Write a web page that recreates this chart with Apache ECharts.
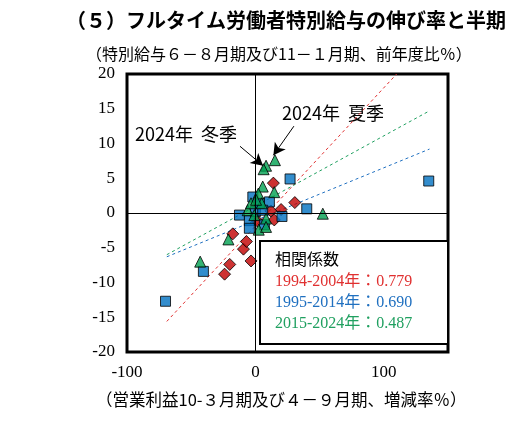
<!DOCTYPE html>
<html><head><meta charset="utf-8">
<script src="https://cdn.jsdelivr.net/npm/echarts@6/dist/echarts.min.js"></script>
<style>body{margin:0;background:#fff}#c{width:529px;height:444px}</style></head>
<body><div id="c"></div>
<script>
const red9404 = [[-24,-8.8],[-20,-7.4],[-9.3,-5.2],[-7,-4.1],[-3.4,-6.9],[-17.6,-3.0],[14,4.3],[30.7,1.5],[20,0.5],[12,0.3],[14.7,-1.0],[1.8,-1.2]];
const blue9514 = [[-70,-12.7],[-40.5,-8.4],[27,4.9],[-2,2.3],[10.9,1.6],[40,0.6],[20.7,-0.5],[-12.4,-0.3],[-4.7,-1.1],[0,0.2],[5.7,0.4],[7,-1.7],[-4.7,-2.2],[3.1,1.4],[135,4.6]];
const green1524 = [[-43,-7.0],[-21,-3.8],[8.3,6.8],[15.2,7.6],[6.4,6.3],[5.7,3.8],[14.7,3.0],[2.3,2.8],[4.9,1.4],[52.5,-0.1],[-6,0.4],[-3.4,1.4],[-0.8,-0.3],[8.3,-0.8],[2.6,-2.4],[8.3,-2.0],[0.5,1.9]];
const redTrend = [[-69,-15.6],[110,20]];
const blueTrend = [[-69,-6.3],[135.6,9.2]];
const greenTrend = [[-69,-6],[135.6,14.7]];
const legendLines = ['相関係数','1994-2004年：0.779','1995-2014年：0.690','2015-2024年：0.487'];
const xTicks = [-100,0,100];

const serif = "'Liberation Serif','Noto Sans CJK JP',serif";
const cjk = "'Noto Sans CJK JP',sans-serif";
const C = {red:'#C00000', blue:'#0070C0', green:'#00A050'};
const chart = echarts.init(document.getElementById('c'));
const trend = (d,c)=>({type:'line',data:d,symbol:'none',silent:true,lineStyle:{color:c,width:1,type:[3,3]},z:1});
const pts = (d,c,s,sz)=>({type:'scatter',data:d,symbol:s,symbolSize:sz,itemStyle:{color:c,borderColor:'#000',borderWidth:1},z:3});
chart.setOption({
  animation:false,
  grid:{left:127,right:81,top:74,bottom:92,show:true,borderColor:'#000',borderWidth:3},
  xAxis:{type:'value',min:-100,max:150,interval:50,
    axisLine:{show:false},axisTick:{show:false},splitLine:{show:false},
    axisLabel:{fontFamily:serif,fontSize:17,color:'#000',margin:12,formatter:v=>xTicks.includes(v)?String(v):''}},
  yAxis:{type:'value',min:-20,max:20,interval:5,
    axisLine:{show:false},axisTick:{show:false},splitLine:{show:false},
    axisLabel:{fontFamily:serif,fontSize:17,color:'#000',margin:12}},
  series:[
    trend(redTrend,'#E03030'),trend(greenTrend,'#20A060'),trend(blueTrend,'#2070C0'),
    {type:'line',data:[],silent:true,markLine:{silent:true,symbol:'none',label:{show:false},
      lineStyle:{color:'#000',width:1,type:'solid'},data:[{xAxis:0},{yAxis:0}]}},
    pts(red9404,C.red,'diamond',12),
    pts(blue9514,C.blue,'rect',10),
    pts(green1524,C.green,'triangle',11),
    {type:'line',data:[],silent:true,z:5,markLine:{silent:true,symbol:['none','arrow'],symbolSize:[10,12],label:{show:false},
      lineStyle:{color:'#000',width:1,type:'solid'},
      data:[[{coord:[-12,9.6]},{coord:[6,6.8]}],[{coord:[30,12.5]},{coord:[14,8.3]}]]}}
  ],
  graphic:[
    {type:'text',left:66,top:10,style:{text:'（５）フルタイム労働者特別給与の伸び率と半期',font:"bold 20px "+cjk,fill:'#000'}},
    {type:'text',left:86,top:46,style:{text:'（特別給与６－８月期及び11－１月期、前年度比％）',font:"16px "+cjk,fill:'#000'}},
    {type:'text',left:96,top:391,style:{text:'（営業利益10-３月期及び４－９月期、増減率％）',font:"16.5px "+cjk,fill:'#000'}},
    {type:'text',left:135,top:125,style:{text:'2024年  冬季',font:"18px "+cjk,fill:'#000'}},
    {type:'text',left:282,top:104,style:{text:'2024年  夏季',font:"18px "+cjk,fill:'#000'}},
    {type:'rect',shape:{x:260,y:241,width:188,height:103},style:{fill:'#fff',stroke:'#000',lineWidth:2},z:10},
    {type:'text',left:275,top:251,z:11,style:{text:legendLines[0],font:"16px "+cjk,fill:'#000'}},
    {type:'text',left:275,top:274,z:11,style:{text:legendLines[1],font:"16px "+serif,fill:'#E03030'}},
    {type:'text',left:275,top:295,z:11,style:{text:legendLines[2],font:"16px "+serif,fill:'#2070C0'}},
    {type:'text',left:275,top:316,z:11,style:{text:legendLines[3],font:"16px "+serif,fill:'#20A060'}}
  ]
});
</script></body></html>
